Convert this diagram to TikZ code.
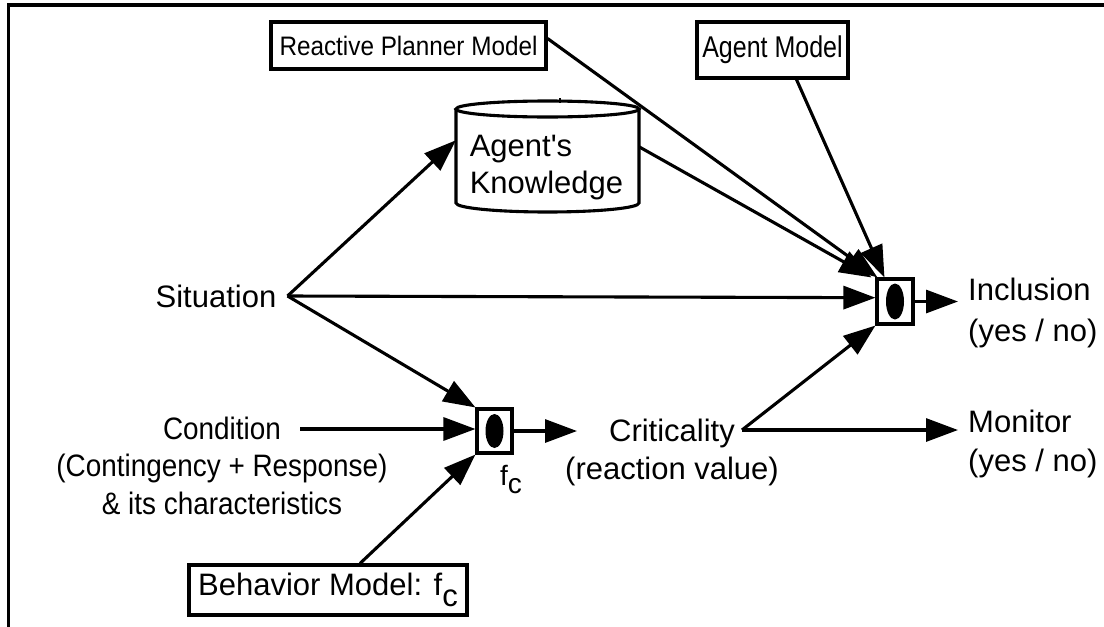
\documentclass[tikz,border=0pt]{standalone}
\usepackage{fontspec}
\setmainfont{Liberation Sans}[Ligatures=TeXOff]
\usetikzlibrary{arrows.meta,calc}
\newcommand{\condx}[1]{\scalebox{0.9}[1]{#1}}
\begin{document}
\begin{tikzpicture}[x=1pt,y=-1pt,
  lw/.style={line width=3.1pt},
  arr/.style={lw, -{Triangle[length=32pt,width=23pt]}},
  txt/.style={font=\fontsize{31}{39}\selectfont, inner sep=0pt},
  boxn/.style={draw, lw, inner sep=0pt, fill=white},
  gate/.style={draw, lw, fill=white, inner sep=0pt, minimum width=36pt, minimum height=45pt},
  dot/.style={fill=black}
]
\useasboundingbox (0,0) rectangle (1104,627);
% frame
\draw[line width=3.2pt] (1104,5) -- (8.5,5) -- (8.5,627);

% top boxes
\node[boxn, minimum width=275pt, minimum height=47pt] (rpm) at (408.5,45.5)
  {\scalebox{1}[1.1]{\fontsize{24.3}{26}\selectfont Reactive Planner Model}};
\node[boxn, minimum width=151pt, minimum height=56pt] (ag) at (772.5,50)
  {\scalebox{1}[1.2]{\fontsize{25}{27}\selectfont Agent Model}};

% cylinder
\node[minimum width=183pt, minimum height=111pt, inner sep=0pt] (ak) at (547.5,156.5) {};
\draw[lw, fill=white] (456,109) -- (456,203) arc[start angle=180, end angle=0, x radius=91.5, y radius=9] -- (639,109);
\draw[lw] (547.5,109) ellipse[x radius=91.5, y radius=8];
\draw[line width=1.5pt] (560,98) -- (560,103);
\node[txt, align=left, font=\fontsize{31}{37}\selectfont] (akt) at (546.5,167.5) {Agent's\\Knowledge};

% texts
\node[txt, inner xsep=11pt] (sit) at (216,296) {Situation};
\node[txt, align=center, font=\fontsize{31}{37.5}\selectfont] (cond) at (222,465.5)
  {\condx{Condition}\\\condx{(Contingency + Response)}\\\condx{\& its characteristics}};
\coordinate (condout) at (300,429);
\node[txt, align=center, font=\fontsize{31}{38}\selectfont] (crit) at (672,452) {Criticality\\(reaction value)};
\coordinate (critin) at (577,430);
\coordinate (critout) at (742,430);
\node[txt, align=left, anchor=west, inner xsep=10pt, font=\fontsize{31}{41}\selectfont] (incl) at (958,312.5) {Inclusion\\(yes / no)};
\node[txt, align=left, anchor=west, inner xsep=10pt, font=\fontsize{31}{39}\selectfont] (mon) at (958,443.5) {Monitor\\(yes / no)};

\node[boxn, minimum width=278pt, minimum height=50pt, font=\fontsize{31}{33}\selectfont] (bm) at (328,590)
  {Behavior Model: f\raisebox{-0.35em}{c}};
\node[txt, anchor=base west, font=\fontsize{28}{30}\selectfont] (fcl) at (500,485) {f\raisebox{-0.3em}{c}};

% gates
\node[gate] (inc) at (895,301.5) {};
\node[gate, minimum width=35pt, minimum height=44pt] (fc) at (494.5,431) {};

% connectors
\draw[arr] (sit.east) -- (ak.170);
\draw[arr] (sit.east) -- (inc.169);
\draw[arr] (sit.east) -- (fc.north west);
\draw[arr] (condout) -- (condout -| fc.west);
\draw[arr] ([xshift=32pt]bm.north) -- (fc.south west);
\draw[arr] (fc.east) -- (fc.east -| critin);
\draw[arr] (critout) -- (critout -| mon.west);
\draw[arr] (critout) -- (inc.south west);
\draw[arr] (inc.east) -- (inc.east -| incl.west);
\draw[arr] (ak.6) -- ([xshift=-4pt]inc.north west);
\draw[arr] ([yshift=7pt]rpm.east) -- ([xshift=2pt]inc.north west);
\draw[arr] ([xshift=24pt]ag.south) -- ([xshift=9pt]inc.north west);

% gate dots
\fill[dot] (inc.center) ellipse[x radius=9, y radius=18];
\fill[dot] (fc.center) ellipse[x radius=9, y radius=17];
\end{tikzpicture}
\end{document}
